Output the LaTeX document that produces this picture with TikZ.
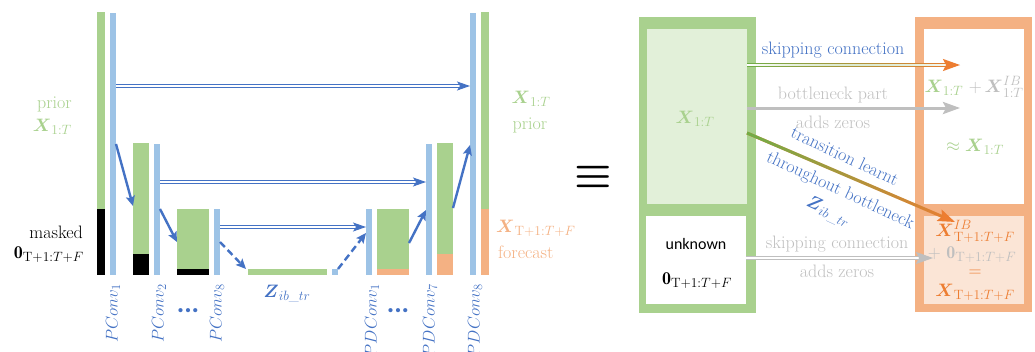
\RequirePackage{fix-cm}
\documentclass[tikz,border=0pt]{standalone}
\usepackage{amsmath}
\usepackage{fontspec}
\newfontfamily\sansf{Carlito}
\DeclareMathSizes{18}{18}{13.5}{10}
\DeclareMathSizes{17}{17}{12.5}{9}
\usetikzlibrary{arrows.meta,calc,fadings}
\definecolor{cgreen}{HTML}{A9D18E}
\definecolor{cblue}{HTML}{9DC3E6}
\definecolor{corange}{HTML}{F4B183}
\definecolor{tblue}{HTML}{4472C4}
\definecolor{lgreen}{HTML}{E2F0D9}
\definecolor{lorange}{HTML}{FBE5D6}
\definecolor{dorange}{HTML}{ED7D31}
\definecolor{dgreen}{HTML}{70AD47}
\definecolor{cgray}{HTML}{BFBFBF}
\begin{document}
\begin{tikzpicture}[x=1pt,y=-1pt,
  bar/.style={draw=none, inner sep=0pt, outer sep=0pt, anchor=south west},
  box/.style={draw=none, inner sep=0pt, outer sep=0pt, anchor=north west},
  txt/.style={inner sep=0pt, font=\fontsize{18}{21}\selectfont},
  dbl/.style={draw=tblue, double=white, double distance=1.4pt, line width=1pt,
    -{Stealth[length=13pt,width=9pt,inset=3pt]}},
  sarr/.style={draw=tblue, line width=2.4pt, -{Stealth[length=10pt,width=9pt,inset=2pt]}},
  darr/.style={sarr, dash pattern=on 7pt off 4pt},
  lbl/.style={inner sep=0pt, font=\fontsize{17}{20}\selectfont, rotate=90, anchor=east, text=tblue},
  dots/.style={inner sep=0pt, text=tblue, font=\sansf\bfseries\fontsize{28}{30}\selectfont},
  bigarr/.style={-{Stealth[length=17pt,width=12pt,inset=3pt]}}
]
\useasboundingbox (0,0) rectangle (1035,351);

% ---------------- left: encoder ----------------
\node[bar, fill=cgreen, minimum width=8, minimum height=263] (g1) at (97,275) {};
\node[bar, fill=black, minimum width=8, minimum height=66] (k1) at (97,275) {};
\node[bar, fill=cblue, minimum width=6, minimum height=262] (b1) at (110,275) {};

\node[bar, fill=cgreen, minimum width=16, minimum height=132] (g2) at (133,275) {};
\node[bar, fill=black, minimum width=16, minimum height=21] (k2) at (133,275) {};
\node[bar, fill=cblue, minimum width=6, minimum height=131] (b2) at (154,275) {};

\node[bar, fill=cgreen, minimum width=32, minimum height=66] (g3) at (177,275) {};
\node[bar, fill=black, minimum width=32, minimum height=6] (k3) at (177,275) {};
\node[bar, fill=cblue, minimum width=6, minimum height=66] (b3) at (214,275) {};

\node[bar, fill=cgreen, minimum width=79, minimum height=6] (gz) at (248,275) {};
\node[bar, fill=cblue, minimum width=6, minimum height=6] (bz) at (332,275) {};

% ---------------- decoder ----------------
\node[bar, fill=cblue, minimum width=6, minimum height=66] (b4) at (366,275) {};
\node[bar, fill=cgreen, minimum width=32, minimum height=66] (g4) at (377,275) {};
\node[bar, fill=corange, minimum width=32, minimum height=6] (o4) at (377,275) {};

\node[bar, fill=cblue, minimum width=6, minimum height=131] (b5) at (426,275) {};
\node[bar, fill=cgreen, minimum width=16, minimum height=132] (g5) at (437,275) {};
\node[bar, fill=corange, minimum width=16, minimum height=21] (o5) at (437,275) {};

\node[bar, fill=cblue, minimum width=6, minimum height=262] (b6) at (470,275) {};
\node[bar, fill=cgreen, minimum width=8, minimum height=263] (g6) at (481,275) {};
\node[bar, fill=corange, minimum width=8, minimum height=66] (o6) at (481,275) {};

% skip connections
\draw[dbl] ([yshift=-73pt]b1.north east) -- ([yshift=-73pt]b1.north east -| b6.west);
\draw[dbl] ([yshift=-38pt]b2.north east) -- ([yshift=-38pt]b2.north east -| b5.west);
\draw[dbl] ([yshift=-18pt]b3.north east) -- ([yshift=-18pt]b3.north east -| b4.west);

% down / up arrows
\draw[sarr] ([yshift=-131pt]b1.north east) -- ([yshift=-63pt]g2.north west);
\draw[sarr] ([yshift=-65pt]b2.north east) -- ([yshift=-33pt]g3.north west);
\draw[darr] ([yshift=-33pt]b3.north east) -- ([xshift=-2pt]gz.north west);
\draw[darr] ([yshift=3pt]bz.east) -- ([yshift=-24pt]b4.north west);
\draw[sarr] ([yshift=-34pt]g4.north east) -- ([yshift=-66pt]b5.north west);
\draw[sarr] ([yshift=-65pt]g5.north east) -- ([yshift=-132pt]b6.north west);

% labels under bars
\node[lbl] (l1) at ([yshift=-9pt]b1.south) {$PConv_1$};
\node[lbl] (l2) at ([yshift=-9pt,xshift=2pt]b2.south) {$PConv_2$};
\node[lbl] (l3) at ([yshift=-9pt]b3.south) {$PConv_8$};
\node[lbl] (l4) at ([yshift=-9pt,xshift=3pt]b4.south) {$PDConv_1$};
\node[lbl] (l5) at ([yshift=-9pt,xshift=1pt]b5.south) {$PDConv_7$};
\node[lbl] (l6) at ([yshift=-9pt,xshift=2pt]b6.south) {$PDConv_8$};
\node[dots] (d1) at (188,311) {...};
\node[dots] (d2) at (398,311) {...};
\node[txt, text=tblue] (zl) at (287,294) {$\boldsymbol{Z}_{ib\_tr}$};

% side texts
\node[txt, text=cgreen, anchor=east] (pl) at (72,104) {prior};
\node[txt, text=cgreen, anchor=east] (xl) at (72,127) {$\boldsymbol{X}_{1:T}$};
\node[txt, anchor=east] (ml) at (83,232) {masked};
\node[txt, anchor=east] (zerl) at (84,255) {$\mathbf{0}_{\mathrm{T}+1:T+F}$};
\node[txt, text=cgreen] (xr) at (531,99) {$\boldsymbol{X}_{1:T}$};
\node[txt, text=cgreen] (pr) at (530,125) {prior};
\node[txt, text=corange, anchor=west] (xfr) at (496,228) {$\boldsymbol{X}_{\mathrm{T}+1:T+F}$};
\node[txt, text=corange, anchor=west] (fr) at (498,252) {forecast};

% equivalence
\node[inner sep=0pt, font=\fontsize{42}{42}\selectfont] (eq) at (593,177) {$\boldsymbol{\equiv}$};

% ---------------- right: boxes ----------------
\node[box, fill=cgreen, minimum width=117, minimum height=296] (gbox) at (639,17) {};
\node[box, fill=lgreen, minimum width=100, minimum height=175] (gin) at (647,29) {};
\node[box, fill=white, minimum width=100, minimum height=88] (wbox) at (646,216) {};
\node[box, fill=corange, minimum width=117, minimum height=295] (obox) at (915,17) {};
\node[box, fill=white, minimum width=100, minimum height=175] (oin) at (924,29) {};
\node[box, fill=lorange, minimum width=100, minimum height=88] (olow) at (924,216) {};

\node[txt, text=cgreen] (gx) at (695,119) {$\boldsymbol{X}_{1:T}$};
\node[txt, font=\sansf\fontsize{16}{19}\selectfont] (unk) at (696,244) {unknown};
\node[txt] (zer) at (697,281) {$\mathbf{0}_{\mathrm{T}+1:T+F}$};

% skipping connection (gradient)
\coordinate (s0) at ([yshift=-36pt]gin.north east);
\coordinate (s1) at ([xshift=36pt]s0 -| oin.west);
\draw[draw=dorange, double=white, double distance=1.2pt, line width=1.2pt, bigarr] (s0) -- (s1);
\draw[draw=dgreen, double=white, double distance=1.2pt, line width=1.2pt, path fading=east, shorten >=14pt] (s0) -- (s1);
\node[txt, text=tblue] (skt) at (833,50) {skipping connection};

% bottleneck part
\coordinate (n0) at ([yshift=-79pt]gin.north east);
\coordinate (n1) at ([xshift=36pt]n0 -| oin.west);
\draw[draw=cgray, line width=3pt, bigarr] (n0) -- (n1);
\node[txt, text=cgray] (bnt) at (833,95) {bottleneck part};
\node[txt, text=cgray] (azt) at (833,122) {adds zeros};

% transition
\coordinate (t0) at ([yshift=-104pt]gin.north east);
\coordinate (t1) at ([xshift=31pt,yshift=-6pt]olow.north west);
\draw[draw=dorange, line width=3pt, bigarr] (t0) -- (t1);
\draw[draw=dgreen, line width=3pt, path fading=east, shorten >=14pt] (t0) -- (t1);
\node[txt, text=tblue, rotate=-25] (tt1) at (845,156) {transition learnt};
\node[txt, text=tblue, rotate=-25] (tt2) at (840,191) {throughout bottleneck};
\node[txt, text=tblue, rotate=-25] (tt3) at (828,212) {$\boldsymbol{Z}_{ib\_tr}$};

% lower skipping connection
\coordinate (u0) at ([yshift=-42pt]wbox.north east);
\coordinate (u1) at ([xshift=9pt]u0 -| olow.west);
\draw[draw=cgray, double=white, double distance=1.2pt, line width=1.2pt, bigarr] (u0) -- (u1);
\node[txt, text=cgray] (sk2) at (837,244) {skipping connection};
\node[txt, text=cgray] (az2) at (837,271) {adds zeros};

% orange box texts
\node[txt] (ot1) at (974,87) {\color{cgreen}$\boldsymbol{X}_{1:T}$ \color{cgray}$+\,\boldsymbol{X}^{IB}_{1:T}$};
\node[txt, text=cgreen] (ot2) at (975,147) {$\approx \boldsymbol{X}_{1:T}$};
\node[txt, text=dorange] (ot3) at (975,231) {$\boldsymbol{X}^{IB}_{\mathrm{T}+1:T+F}$};
\node[txt, text=cgray] (ot4) at (972,255) {$+\ \mathbf{0}_{\mathrm{T}+1:T+F}$};
\node[txt, text=dorange] (ot5) at (975,273) {$=$};
\node[txt, text=dorange] (ot6) at (975,292) {$\boldsymbol{X}_{\mathrm{T}+1:T+F}$};
\end{tikzpicture}
\end{document}
